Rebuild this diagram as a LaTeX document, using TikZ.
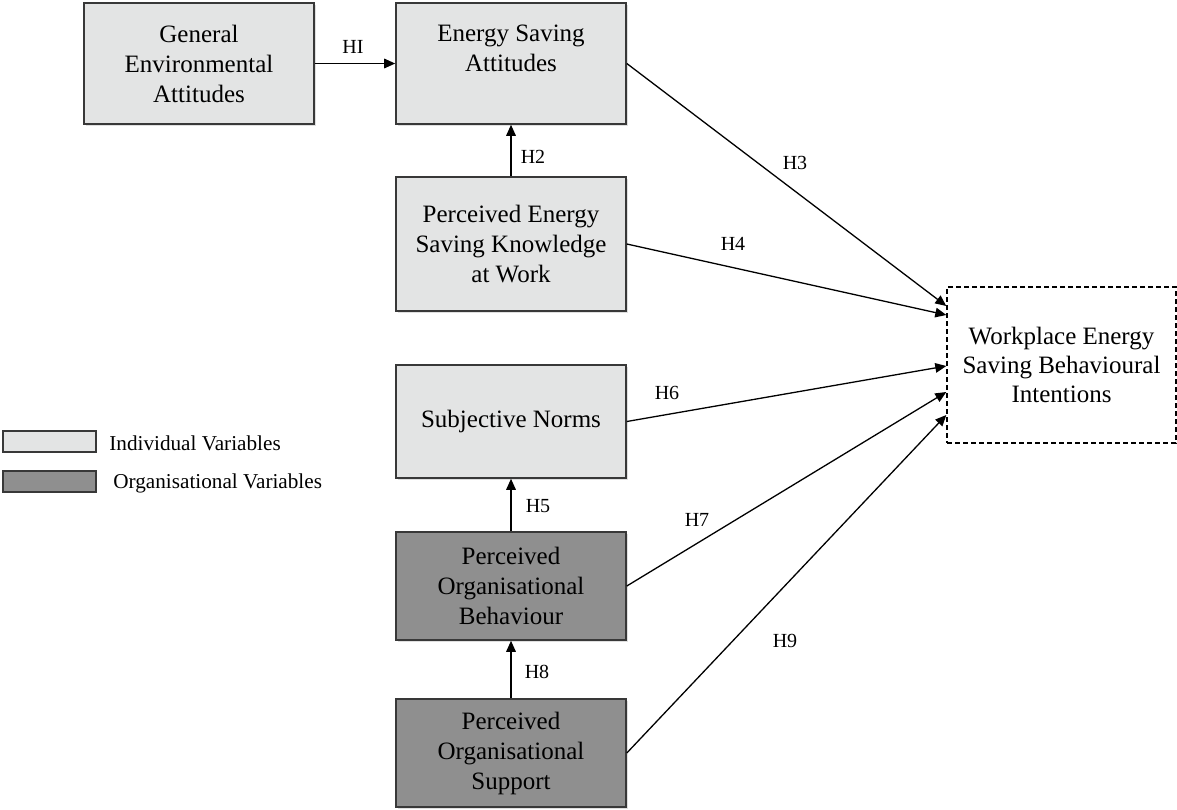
\documentclass[tikz,border=0pt]{standalone}
\usepackage{fontspec}
\setmainfont{Liberation Serif}
\usetikzlibrary{arrows.meta,calc,shadows}
\definecolor{lightfill}{HTML}{E3E4E4}
\definecolor{darkfill}{HTML}{8F8F8F}
\definecolor{edgecol}{HTML}{383838}
\tikzset{
  varbox/.style={draw=edgecol, line width=0.8pt, minimum width=115pt, align=center,
    font=\fontsize{12.5pt}{15pt}\selectfont, inner sep=2pt,
    drop shadow={opacity=0.25, shadow xshift=0.8pt, shadow yshift=-0.8pt}},
  indiv/.style={varbox, fill=lightfill},
  orgv/.style={varbox, fill=darkfill},
  outcome/.style={draw=black, line width=0.7pt, dash pattern=on 2.5pt off 1.5pt, fill=white,
    minimum width=114.5pt, minimum height=78pt, align=center,
    font=\fontsize{12.5pt}{14.5pt}\selectfont},
  legbox/.style={draw=edgecol, line width=0.8pt, minimum width=46.5pt, minimum height=10.5pt, inner sep=0pt,
    drop shadow={opacity=0.25, shadow xshift=0.6pt, shadow yshift=-0.6pt}},
  hyp/.style={font=\fontsize{10pt}{12pt}\selectfont, inner sep=1pt},
  legtext/.style={font=\fontsize{10.6pt}{12pt}\selectfont, anchor=west, inner sep=0pt},
  link/.style={line width=0.65pt, -{Triangle[length=5.5pt,width=4.8pt]}}
}
\begin{document}
\begin{tikzpicture}[x=0.5pt,y=-0.5pt]
\useasboundingbox (0,0) rectangle (1177,809);
% boxes
\node[indiv, minimum height=60.5pt] (gea) at (199,63.5) {General\\Environmental\\Attitudes};
\node[indiv, minimum height=60.5pt] (esa) at (511,63.5) {Energy Saving\\Attitudes\\~};
\node[indiv, minimum height=67pt] (pesk) at (511,244) {Perceived Energy\\Saving Knowledge\\at Work};
\node[indiv, minimum height=56.5pt] (sn) at (511,421.5) {Subjective Norms};
\node[orgv, minimum height=54pt] (pob) at (511,586) {Perceived\\Organisational\\Behaviour};
\node[orgv, minimum height=54pt] (pos) at (511,753) {Perceived\\Organisational\\Support};
\node[outcome] (wesbi) at (1061.5,365) {Workplace Energy\\Saving Behavioural\\Intentions};
% legend
\node[legbox, fill=lightfill] (legi) at (49.5,441.5) {};
\node[legbox, fill=darkfill] (lego) at (49.5,481.5) {};
\node[legtext] (legit) at (109,443) {Individual Variables};
\node[legtext] (legot) at (113,483) {Organisational Variables};
% connectors
\draw[link] (gea.east) -- (esa.west);
\draw[link] (pesk.north) -- (esa.south);
\draw[link] (esa.east) -- ($(wesbi.west)+(0,-59)$);
\draw[link] (pesk.east) -- ($(wesbi.west)+(0,-50)$);
\draw[link] (pob.north) -- (sn.south);
\draw[link] (sn.east) -- ($(wesbi.west)+(0,1)$);
\draw[link] (pob.east) -- ($(wesbi.west)+(0,27)$);
\draw[link] (pos.north) -- (pob.south);
\draw[link] (pos.east) -- ($(wesbi.west)+(0,50)$);
% labels
\node[hyp] (l1) at (353,47) {HI};
\node[hyp] (l2) at (533,157) {H2};
\node[hyp] (l3) at (795,163) {H3};
\node[hyp] (l4) at (733,244) {H4};
\node[hyp] (l5) at (538,506) {H5};
\node[hyp] (l6) at (667,393) {H6};
\node[hyp] (l7) at (697,520) {H7};
\node[hyp] (l8) at (537,672) {H8};
\node[hyp] (l9) at (785,641) {H9};
\end{tikzpicture}
\end{document}
